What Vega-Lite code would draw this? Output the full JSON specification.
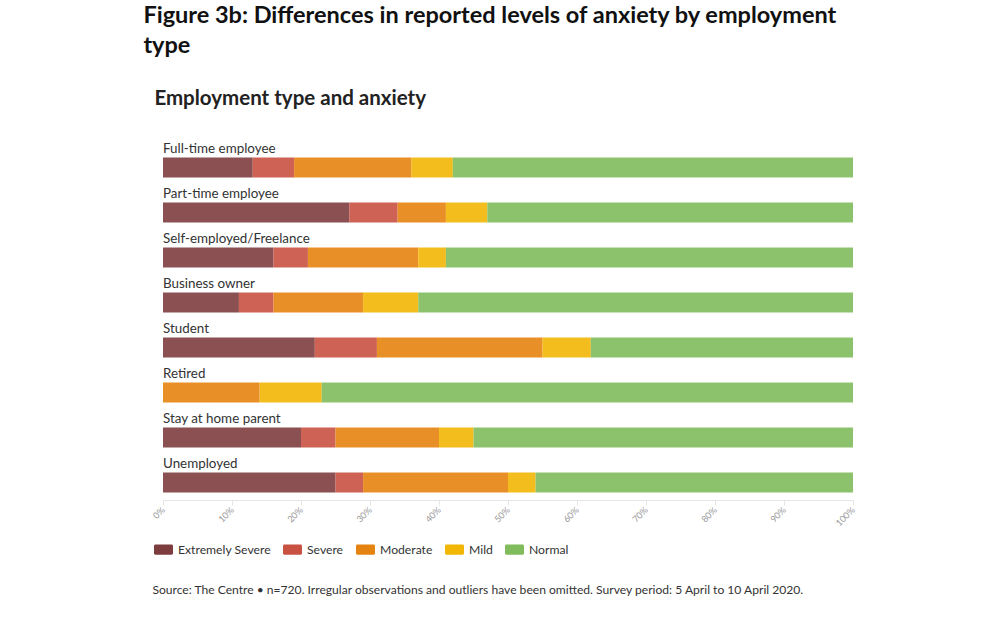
{
  "$schema": "https://vega.github.io/schema/vega-lite/v6.json",
  "padding": {"left": 143, "top": 4, "right": 20, "bottom": 20},
  "background": "white",
  "config": {"view": {"stroke": null}, "font": "Lato"},
  "title": {
    "text": ["Figure 3b: Differences in reported levels of anxiety by employment", "type"],
    "anchor": "start",
    "font": "Lato",
    "fontSize": 23.5,
    "fontWeight": "bold",
    "color": "#111111",
    "lineHeight": 30,
    "offset": 31,
    "dx": -8
  },
  "datasets": {
    "bars": [
      {"employment": "Full-time employee", "level": "Extremely Severe", "k": 1, "value": 13},
      {"employment": "Full-time employee", "level": "Severe", "k": 2, "value": 6},
      {"employment": "Full-time employee", "level": "Moderate", "k": 3, "value": 17},
      {"employment": "Full-time employee", "level": "Mild", "k": 4, "value": 6},
      {"employment": "Full-time employee", "level": "Normal", "k": 5, "value": 58},
      {"employment": "Part-time employee", "level": "Extremely Severe", "k": 1, "value": 27},
      {"employment": "Part-time employee", "level": "Severe", "k": 2, "value": 7},
      {"employment": "Part-time employee", "level": "Moderate", "k": 3, "value": 7},
      {"employment": "Part-time employee", "level": "Mild", "k": 4, "value": 6},
      {"employment": "Part-time employee", "level": "Normal", "k": 5, "value": 53},
      {"employment": "Self-employed/Freelance", "level": "Extremely Severe", "k": 1, "value": 16},
      {"employment": "Self-employed/Freelance", "level": "Severe", "k": 2, "value": 5},
      {"employment": "Self-employed/Freelance", "level": "Moderate", "k": 3, "value": 16},
      {"employment": "Self-employed/Freelance", "level": "Mild", "k": 4, "value": 4},
      {"employment": "Self-employed/Freelance", "level": "Normal", "k": 5, "value": 59},
      {"employment": "Business owner", "level": "Extremely Severe", "k": 1, "value": 11},
      {"employment": "Business owner", "level": "Severe", "k": 2, "value": 5},
      {"employment": "Business owner", "level": "Moderate", "k": 3, "value": 13},
      {"employment": "Business owner", "level": "Mild", "k": 4, "value": 8},
      {"employment": "Business owner", "level": "Normal", "k": 5, "value": 63},
      {"employment": "Student", "level": "Extremely Severe", "k": 1, "value": 22},
      {"employment": "Student", "level": "Severe", "k": 2, "value": 9},
      {"employment": "Student", "level": "Moderate", "k": 3, "value": 24},
      {"employment": "Student", "level": "Mild", "k": 4, "value": 7},
      {"employment": "Student", "level": "Normal", "k": 5, "value": 38},
      {"employment": "Retired", "level": "Extremely Severe", "k": 1, "value": 0},
      {"employment": "Retired", "level": "Severe", "k": 2, "value": 0},
      {"employment": "Retired", "level": "Moderate", "k": 3, "value": 14},
      {"employment": "Retired", "level": "Mild", "k": 4, "value": 9},
      {"employment": "Retired", "level": "Normal", "k": 5, "value": 77},
      {"employment": "Stay at home parent", "level": "Extremely Severe", "k": 1, "value": 20},
      {"employment": "Stay at home parent", "level": "Severe", "k": 2, "value": 5},
      {"employment": "Stay at home parent", "level": "Moderate", "k": 3, "value": 15},
      {"employment": "Stay at home parent", "level": "Mild", "k": 4, "value": 5},
      {"employment": "Stay at home parent", "level": "Normal", "k": 5, "value": 55},
      {"employment": "Unemployed", "level": "Extremely Severe", "k": 1, "value": 25},
      {"employment": "Unemployed", "level": "Severe", "k": 2, "value": 4},
      {"employment": "Unemployed", "level": "Moderate", "k": 3, "value": 21},
      {"employment": "Unemployed", "level": "Mild", "k": 4, "value": 4},
      {"employment": "Unemployed", "level": "Normal", "k": 5, "value": 46}
    ],
    "labels": [
      {"employment": "Full-time employee"},
      {"employment": "Part-time employee"},
      {"employment": "Self-employed/Freelance"},
      {"employment": "Business owner"},
      {"employment": "Student"},
      {"employment": "Retired"},
      {"employment": "Stay at home parent"},
      {"employment": "Unemployed"}
    ]
  },
  "vconcat": [
    {
      "title": {
        "text": "Employment type and anxiety",
        "anchor": "start",
        "font": "Lato",
        "fontSize": 20.5,
        "fontWeight": "bold",
        "color": "#222222",
        "offset": 33,
        "dx": 3
      },
      "vconcat": [
        {
          "width": 690,
          "height": 350,
          "title": {
            "text": "Source: The Centre \u2022 n=720. Irregular observations and outliers have been omitted. Survey period: 5 April to 10 April 2020.",
            "orient": "bottom",
            "anchor": "start",
            "font": "Lato",
            "fontSize": 12.1,
            "fontWeight": "normal",
            "color": "#333333",
            "offset": 56,
            "dx": 1
          },
          "layer": [
            {
              "data": {"name": "bars"},
              "mark": {"type": "bar", "opacity": 0.9},
              "encoding": {
                "y": {
                  "field": "employment",
                  "type": "nominal",
                  "sort": ["Full-time employee", "Part-time employee", "Self-employed/Freelance", "Business owner", "Student", "Retired", "Stay at home parent", "Unemployed"],
                  "axis": null,
                  "scale": {"paddingInner": 0.5556, "paddingOuter": 0.1667}
                },
                "x": {
                  "field": "value",
                  "type": "quantitative",
                  "stack": "zero",
                  "scale": {"domain": [0, 100]},
                  "axis": {
                    "values": [0, 10, 20, 30, 40, 50, 60, 70, 80, 90, 100],
                    "labelExpr": "datum.value + '%'",
                    "labelAngle": -45,
                    "labelAlign": "right",
                    "labelBaseline": "middle",
                    "labelFontSize": 9,
                    "labelColor": "#999999",
                    "labelFont": "Lato",
                    "labelPadding": 3,
                    "grid": false,
                    "domainColor": "#e6e6e6",
                    "tickColor": "#e6e6e6",
                    "tickSize": 5,
                    "title": null
                  }
                },
                "color": {
                  "field": "level",
                  "type": "nominal",
                  "scale": {
                    "domain": ["Extremely Severe", "Severe", "Moderate", "Mild", "Normal"],
                    "range": ["#7d3d3f", "#c95141", "#e58311", "#f2b604", "#80bb5c"]
                  },
                  "legend": {
                    "title": null,
                    "orient": "none",
                    "direction": "horizontal",
                    "legendX": -9,
                    "legendY": 390,
                    "symbolType": "M-0.85,-0.53 H0.85 Q1,-0.53 1,-0.38 V0.38 Q1,0.53 0.85,0.53 H-0.85 Q-1,0.53 -1,0.38 V-0.38 Q-1,-0.53 -0.85,-0.53 Z",
                    "symbolSize": 361,
                    "symbolOpacity": 1,
                    "symbolStrokeWidth": 0,
                    "labelFont": "Lato",
                    "labelFontSize": 12.2,
                    "labelColor": "#333333",
                    "labelOffset": 5,
                    "columnPadding": 12
                  }
                },
                "order": {"field": "k", "type": "quantitative"}
              }
            },
            {
              "data": {"name": "labels"},
              "mark": {"type": "text", "align": "left", "baseline": "alphabetic", "dy": -14.5, "font": "Lato", "fontSize": 13.4, "color": "#333333"},
              "encoding": {
                "y": {
                  "field": "employment",
                  "type": "nominal",
                  "sort": ["Full-time employee", "Part-time employee", "Self-employed/Freelance", "Business owner", "Student", "Retired", "Stay at home parent", "Unemployed"]
                },
                "x": {"datum": 0},
                "text": {"field": "employment"}
              }
            }
          ]
        }
      ]
    }
  ]
}
